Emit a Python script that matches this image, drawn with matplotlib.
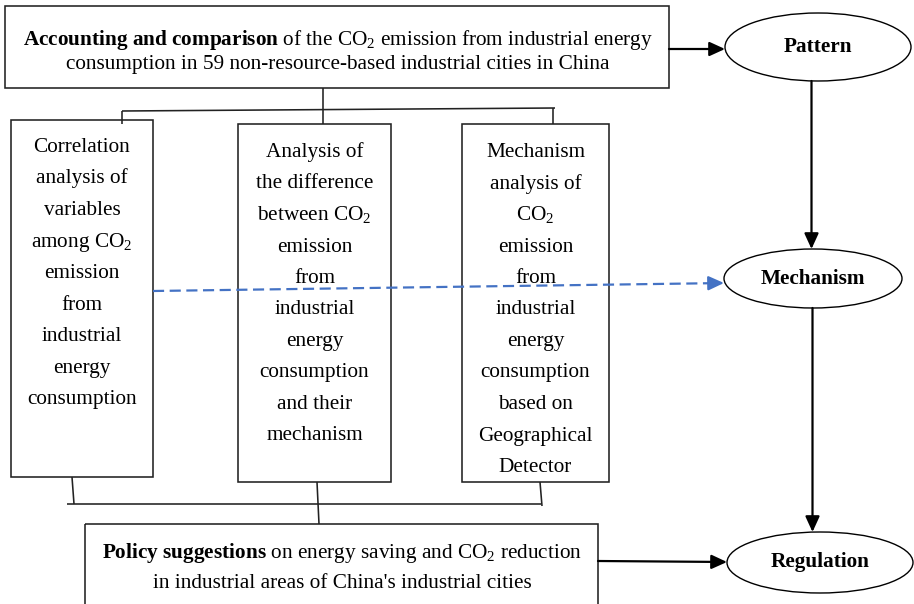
import matplotlib
matplotlib.use("Agg")
import matplotlib.pyplot as plt
from matplotlib.patches import Rectangle, Ellipse

plt.rcParams['font.family'] = ['Liberation Serif', 'DejaVu Serif']
plt.rcParams['mathtext.fontset'] = 'custom'
plt.rcParams['mathtext.rm'] = 'Liberation Serif'
plt.rcParams['mathtext.it'] = 'Liberation Serif:italic'
plt.rcParams['mathtext.bf'] = 'Liberation Serif:bold'
plt.rcParams['mathtext.default'] = 'regular'

# --- texts of the diagram ---
top_lines = [r"$\mathbf{Accounting\ and\ comparison}$ of the CO$_2$ emission from industrial energy",
             "consumption in 59 non-resource-based industrial cities in China"]
box1_lines = ["Correlation", "analysis of", "variables", "among CO$_2$", "emission", "from",
              "industrial", "energy", "consumption"]
box2_lines = ["Analysis of", "the difference", "between CO$_2$", "emission", "from", "industrial",
              "energy", "consumption", "and their", "mechanism"]
box3_lines = ["Mechanism", "analysis of", "CO$_2$", "emission", "from", "industrial", "energy",
              "consumption", "based on", "Geographical", "Detector"]
policy_lines = [r"$\mathbf{Policy\ suggestions}$ on energy saving and CO$_2$ reduction",
                "in industrial areas of China's industrial cities"]
ellipse_labels = ["Pattern", "Mechanism", "Regulation"]

FS = 15.3
BLUE = '#4472C4'

fig = plt.figure(figsize=(9.14, 6.04), dpi=100)
ax = fig.add_axes([0, 0, 1, 1])
ax.set_xlim(0, 914)
ax.set_ylim(604, 0)
ax.axis('off')


def box(x0, y0, x1, y1, lw=1.15):
    ax.add_patch(Rectangle((x0, y0), x1 - x0, y1 - y0, fill=False, ec='#222222', lw=lw))


def line(xs, ys, lw=1.15):
    ax.plot(xs, ys, color='#222222', lw=lw, solid_capstyle='butt')


def arrow(x0, y0, x1, y1, color='black', lw=1.6):
    ax.annotate('', xy=(x1, y1), xytext=(x0, y0),
                arrowprops=dict(arrowstyle='-|>,head_length=0.94,head_width=0.43',
                                color=color, lw=lw, shrinkA=0, shrinkB=0))


def stack(lines, xc, y_first, step):
    for i, t in enumerate(lines):
        ax.text(xc, y_first + i * step, t, ha='center', va='baseline', fontsize=FS)


# top box
box(5, 6, 669, 88)
stack(top_lines, 338, 45, 24.5)

# three analysis boxes
box(11, 120, 153, 477)
box(238, 124, 391, 482)
box(462, 124, 609, 482)
stack(box1_lines, 82, 152, 31.5)
stack(box2_lines, 314.5, 157, 31.5)
stack(box3_lines, 535.5, 157, 31.5)

# policy box (runs past bottom edge)
box(85, 524, 598, 640)
stack(policy_lines, 342, 558, 30)

# connectors top
line([322.5, 322.5], [88, 124])
line([122, 555], [111, 108])
line([122, 122], [111, 124])
line([553, 553], [108, 124])

# connectors bottom
line([72, 74], [477, 504])
line([67, 541], [504, 504])
line([540, 542], [482, 506])
line([317, 319], [482, 524])

# ellipses
ells = [(818, 47, 186, 68), (813, 278.5, 178, 59), (820, 562.5, 186, 61)]
for (cx, cy, w, h), lab in zip(ells, ellipse_labels):
    ax.add_patch(Ellipse((cx, cy), w, h, fill=False, ec='black', lw=1.0))
    ax.text(cx, cy, lab, ha='center', va='center', fontsize=FS, fontweight='bold')

# arrows
arrow(669, 49, 725, 49)
arrow(811.5, 81, 811.5, 249)
arrow(812.5, 308, 812.5, 532)
arrow(598, 561, 727, 562)

# dashed blue arrow
ax.plot([153, 712], [291, 283.2], color=BLUE, lw=1.6, dashes=(5, 2.5))
arrow(709, 283.2, 724, 283, color=BLUE, lw=1.6)

fig.savefig('out.png', dpi=100)
